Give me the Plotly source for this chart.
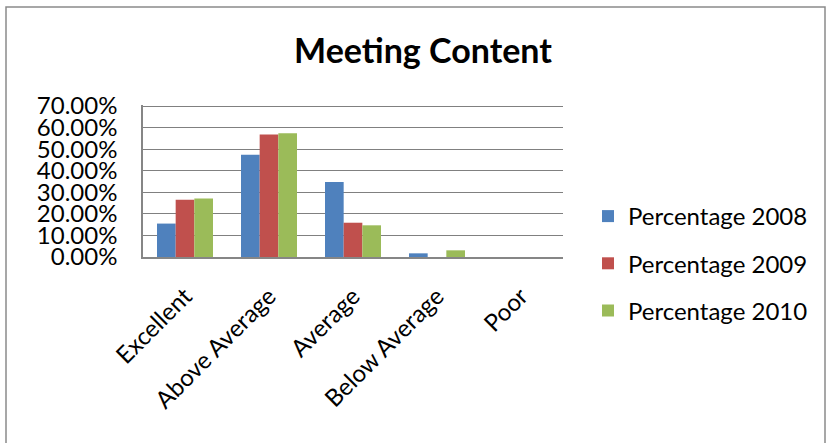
import plotly.graph_objects as go

categories = ["Excellent", "Above Average", "Average", "Below Average", "Poor"]
pct_2008 = [0.155, 0.474, 0.348, 0.017, 0.0]
pct_2009 = [0.266, 0.568, 0.159, 0.0, 0.0]
pct_2010 = [0.271, 0.574, 0.147, 0.031, 0.0]
series_names = ["Percentage 2008", "Percentage 2009", "Percentage 2010"]
colors = ["#4F81BD", "#C0504D", "#9BBB59"]
y_ticks = [0.0, 0.1, 0.2, 0.3, 0.4, 0.5, 0.6, 0.7]

FONT = "Lato"
W, H = 826, 443
L, R, T, B = 143, 263, 105, 186
pw, ph = W - L - R, H - T - B

def px_x(p):
    return (p - L) / pw

def px_y(p):
    return (H - B - p) / ph

fig = go.Figure()
for name, vals, col in zip(series_names, [pct_2008, pct_2009, pct_2010], colors):
    fig.add_trace(go.Bar(x=categories, y=vals, name=name, marker_color=col,
                         marker_line_width=0, legendgroup=name))

fig.update_layout(
    width=W, height=H,
    margin=dict(l=L, r=R, t=T, b=B, pad=0),
    paper_bgcolor="white", plot_bgcolor="white",
    barmode="group", bargap=1/3, bargroupgap=0,
    font=dict(family=FONT, color="black"),
    title=dict(text="<b>Meeting Content</b>", font=dict(family=FONT, size=34, color="black"),
               x=423 / W, xanchor="center", xref="container",
               y=1 - 51 / H, yanchor="middle", yref="container"),
    showlegend=True,
    legend=dict(x=px_x(588), y=px_y(194), xanchor="left", yanchor="top",
                font=dict(family=FONT, size=24, color="black"),
                tracegroupgap=13, bgcolor="rgba(0,0,0,0)"),
    xaxis=dict(tickangle=-45, tickfont=dict(family=FONT, size=24, color="black"),
               showline=True, linecolor="#868686", linewidth=1.5, ticks="",
               showgrid=False, ticklabelstandoff=14),
    yaxis=dict(range=[0, 0.705], tickvals=y_ticks, tickformat=".2%",
               tickfont=dict(family=FONT, size=24, color="black"),
               showline=True, linecolor="#868686", linewidth=1.5,
               showgrid=True, gridcolor="#808080", gridwidth=1.2, ticks="",
               ticklabelstandoff=19, zeroline=False),
    shapes=[dict(type="rect", xref="paper", yref="paper",
                 x0=px_x(6), x1=px_x(825), y0=px_y(460), y1=px_y(7),
                 line=dict(color="#8a8a8a", width=1.5), fillcolor="rgba(0,0,0,0)",
                 layer="below")],
)

fig.write_html("out.html", config={"displayModeBar": False},
               post_script="document.body.style.margin='0';document.body.style.overflow='hidden';")
